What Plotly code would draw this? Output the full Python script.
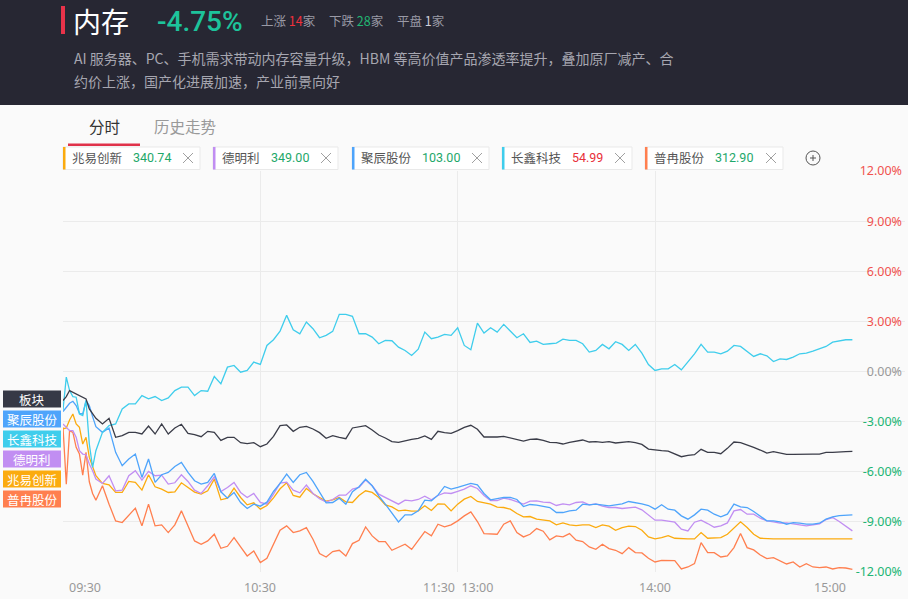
import plotly.graph_objects as go

# 分钟序号（09:30 起，午休合并），前10分钟逐分钟，之后每2分钟
minutes = list(range(0, 11)) + list(range(12, 241, 2))

# 各序列涨跌幅（%）
bankuai = [-1.74, -1.5, -1.14, -1.24, -1.34, -1.46, -1.54, -1.64, -2.24, -2.54, -2.8,
           -3.14, -2.8, -3.94, -3.84, -3.64, -3.64, -3.74, -3.26, -3.74, -3.14,
           -3.74, -3.38, -3.16, -3.7, -3.78, -3.9, -3.58, -3.64, -4.12, -3.94,
           -3.94, -4.26, -4.32, -4.26, -4.5,
           -4.34, -3.88, -3.24, -3.2, -3.58, -3.34, -3.28, -3.44, -3.66, -4.0,
           -3.84, -3.94, -4.02, -3.38, -3.3, -3.24, -3.5, -3.8, -3.98, -4.2,
           -4.24, -4.14, -4.06, -4.0, -3.86, -4.06, -3.58, -3.66, -3.7, -3.54,
           -3.34, -3.22, -3.46, -3.92, -3.94, -3.92, -3.88, -3.96, -4.08, -4.16,
           -4.06, -4.04, -4.12, -4.24, -4.26, -4.34, -4.24, -4.16, -4.1, -4.22,
           -4.2, -4.24, -4.2, -4.28, -4.24, -4.2, -4.26, -4.36, -4.64, -4.7,
           -4.74, -4.76, -4.94, -5.1, -5.02, -4.98, -4.66, -4.84, -4.84, -4.92,
           -4.6, -4.22, -4.26, -4.38, -4.54, -4.7, -4.88, -4.8, -4.9, -4.96,
           -4.96, -4.94, -4.94, -4.94, -4.94, -4.84, -4.84, -4.8, -4.8, -4.78]

juchen = [-2.4, -2.14, -1.9, -1.78, -2.04, -2.5, -2.54, -1.74, -2.04, -2.7, -3.3,
          -3.64, -3.38, -4.84, -5.64, -5.24, -4.94, -6.34, -5.24, -6.64, -6.18,
          -6.04, -5.68, -5.44, -6.04, -6.54, -6.74, -6.64, -6.1, -7.2, -7.58,
          -7.24, -7.84, -8.2, -7.94, -8.06,
          -7.82, -7.18, -6.7, -6.14, -6.64, -6.18, -6.04, -6.58, -7.24, -7.86,
          -7.84, -7.58, -7.94, -7.2, -6.9, -6.44, -6.84, -7.44, -7.94, -8.5,
          -9.0, -8.58, -8.58, -8.34, -7.7, -7.74, -7.4, -6.88, -7.04, -6.94,
          -6.84, -6.7, -6.78, -7.3, -7.68, -7.62, -7.54, -7.54, -7.66, -8.08,
          -7.96, -8.0, -8.06, -8.14, -8.44, -8.44, -8.34, -8.3, -7.94, -7.98,
          -7.94, -7.98, -8.04, -7.98, -7.92, -7.78, -7.84, -7.92, -8.02, -8.24,
          -7.98, -8.24, -8.3, -8.64, -8.84, -8.58, -8.24, -8.3, -8.54, -8.7,
          -8.54, -7.94, -8.1, -8.14, -8.38, -8.64, -8.94, -8.94, -9.0, -9.14,
          -9.04, -9.08, -9.14, -9.14, -9.08, -8.84, -8.7, -8.62, -8.58, -8.58]

changxin = [-2.3, -0.34, -1.14, -1.5, -1.54, -2.54, -2.64, -1.74, -4.34, -5.74, -4.74,
            -3.64, -3.24, -3.14, -2.24, -1.94, -1.94, -1.44, -1.64, -1.5, -1.74,
            -1.58, -1.14, -0.94, -0.94, -1.44, -1.14, -1.18, -0.3, -0.74, 0.26,
            0.36, -0.04, 0.06, 0.56, 0.42,
            1.56, 1.9, 2.42, 3.36, 2.5, 2.26, 2.96, 2.56, 2.02, 2.16,
            2.4, 3.42, 3.42, 3.3, 2.26, 2.26, 2.06, 1.66, 1.86, 1.84,
            1.46, 1.26, 0.96, 1.34, 2.36, 1.96, 2.06, 2.22, 2.16, 2.62,
            1.56, 1.3, 2.9, 2.3, 2.62, 2.36, 2.82, 2.42, 2.02, 2.26,
            1.74, 1.82, 1.62, 1.66, 1.7, 1.94, 1.86, 1.86, 1.66, 1.16,
            1.26, 1.62, 1.36, 1.78, 1.62, 1.26, 1.62, 1.1, 0.42, 0.06,
            0.16, 0.16, 0.42, 0.1, 0.56, 1.06, 1.62, 1.16, 1.16, 1.06,
            1.22, 1.56, 1.5, 1.2, 0.9, 1.06, 0.94, 0.6, 0.76, 0.72,
            0.86, 1.06, 1.1, 1.22, 1.38, 1.5, 1.76, 1.82, 1.9, 1.9]

demingli = [-3.14, -3.34, -3.54, -3.54, -3.94, -4.74, -4.94, -4.98, -5.54, -5.94, -6.44,
            -6.7, -6.24, -7.14, -7.1, -6.24, -5.94, -6.5, -5.98, -6.24, -6.2,
            -6.74, -6.66, -6.18, -6.58, -7.1, -7.3, -6.84, -6.3, -7.18, -6.94,
            -6.64, -7.24, -7.54, -7.3, -7.84,
            -7.94, -7.34, -6.68, -6.62, -7.1, -7.26, -6.8, -7.3, -7.62, -7.82,
            -7.66, -7.4, -7.4, -7.04, -6.94, -6.5, -6.84, -7.34, -7.54, -7.74,
            -7.94, -7.7, -7.74, -7.66, -7.46, -7.68, -7.42, -7.26, -7.3, -7.18,
            -7.04, -6.84, -7.0, -7.42, -7.72, -7.72, -7.58, -7.66, -7.78, -7.94,
            -7.76, -7.74, -7.82, -7.84, -8.02, -7.92, -7.98, -7.84, -7.8, -7.98,
            -7.92, -8.06, -8.14, -8.14, -8.2, -8.14, -8.12, -8.28, -8.58, -8.9,
            -8.9, -8.98, -9.02, -9.44, -9.54, -9.02, -8.9, -9.1, -9.32, -9.24,
            -9.06, -8.34, -8.26, -8.54, -8.54, -8.78, -8.94, -9.0, -9.08, -9.06,
            -9.1, -9.18, -9.24, -9.18, -9.12, -8.86, -8.74, -8.98, -9.24, -9.54]

zhaoyi = [-3.44, -3.38, -2.9, -2.54, -3.14, -3.34, -4.34, -3.94, -5.14, -5.74, -6.24,
          -6.7, -6.78, -7.24, -7.24, -6.58, -6.64, -7.1, -6.18, -6.9, -7.04,
          -7.24, -7.2, -6.66, -6.94, -7.22, -7.34, -7.14, -6.44, -7.68, -7.58,
          -6.98, -7.54, -7.98, -7.86, -8.24,
          -8.02, -7.56, -7.02, -6.66, -7.42, -7.52, -7.0, -7.32, -7.54, -7.76,
          -7.68, -7.54, -7.8, -7.84, -7.42, -7.14, -7.24, -7.54, -7.98, -8.1,
          -8.34, -8.3, -8.36, -8.34, -8.04, -8.32, -7.92, -7.94, -8.34, -7.94,
          -7.64, -7.48, -7.78, -7.86, -7.94, -8.12, -8.14, -8.24, -8.5, -8.7,
          -8.68, -8.84, -8.88, -8.94, -9.18, -9.06, -9.18, -9.22, -9.18, -9.18,
          -9.34, -9.18, -9.26, -9.5, -9.34, -9.26, -9.28, -9.5, -9.9, -10.02,
          -9.94, -9.82, -9.98, -10.02, -10.02, -10.02, -9.64, -9.98, -9.98, -9.94,
          -9.74, -9.38, -9.0, -9.34, -9.74, -9.98, -10.02, -10.02, -10.02, -10.02,
          -10.02, -10.02, -10.02, -10.02, -10.02, -10.02, -10.02, -10.02, -10.02, -10.02]

puran = [-3.34, -6.74, -3.54, -3.64, -4.54, -4.94, -6.2, -4.84, -6.6, -7.3, -7.7,
         -6.84, -7.94, -8.94, -9.04, -8.64, -8.18, -9.24, -7.94, -9.24, -9.18,
         -9.64, -9.18, -8.34, -9.24, -10.14, -10.34, -10.14, -9.74, -10.58, -10.46,
         -9.94, -10.5, -11.04, -10.74, -11.44,
         -11.18, -10.34, -9.5, -9.24, -9.64, -9.54, -9.34, -10.04, -10.9, -11.1,
         -10.78, -10.7, -11.04, -10.3, -10.1, -9.3, -9.84, -10.18, -10.18, -10.7,
         -10.54, -10.34, -10.64, -10.1, -9.58, -9.84, -9.14, -9.3, -9.18, -8.94,
         -8.64, -8.4, -8.98, -9.7, -9.74, -9.74, -9.14, -8.94, -9.64, -9.9,
         -9.74, -9.4, -9.56, -10.08, -9.84, -9.9, -9.7, -10.1, -10.18, -10.5,
         -10.64, -10.34, -10.6, -10.7, -10.9, -10.54, -10.84, -10.86, -11.18, -11.4,
         -11.3, -11.3, -11.32, -11.82, -11.7, -11.5, -10.24, -10.84, -10.84, -11.1,
         -11.04, -10.54, -9.7, -10.54, -10.68, -10.98, -11.2, -11.14, -11.34, -11.52,
         -11.4, -11.7, -11.5, -11.7, -11.74, -11.7, -11.82, -11.74, -11.76, -11.84]

# 图例标签（左侧）与顶部股票标签
series_names = ["普冉股份", "兆易创新", "德明利", "聚辰股份", "长鑫科技", "板块"]
series_data = [puran, zhaoyi, demingli, juchen, changxin, bankuai]
series_colors = ["#ff7f4f", "#fbab0f", "#c18ef2", "#4ea4fb", "#3fcdec", "#3a3c48"]

left_labels = ["板块", "聚辰股份", "长鑫科技", "德明利", "兆易创新", "普冉股份"]
left_colors = ["#363946", "#4ea4fb", "#3fcdec", "#c18ef2", "#fbab0f", "#ff7f4f"]

chip_names = ["兆易创新", "德明利", "聚辰股份", "长鑫科技", "普冉股份"]
chip_prices = ["340.74", "349.00", "103.00", "54.99", "312.90"]
chip_up = [False, False, False, True, False]
chip_colors = ["#fbab0f", "#c18ef2", "#4ea4fb", "#3fcdec", "#ff7f4f"]

y_ticks = [-12, -9, -6, -3, 0, 3, 6, 9, 12]
x_ticks = [0, 60, 120, 180, 240]
x_tick_text = ["09:30", "10:30", "11:30  13:00", "14:00", "15:00"]

RED = "#f0524f"
GREEN = "#21b574"
CJK = "Noto Sans CJK SC"

W, H = 908, 599
L, R, T, B = 63, 3, 171, 27
PW, PH = W - L - R, H - T - B


def px(x):
    return (x - L) / PW


def py(y):
    return (H - B - y) / PH


fig = go.Figure()
for name, vals, col in zip(series_names, series_data, series_colors):
    fig.add_trace(go.Scatter(x=minutes, y=vals, mode="lines", name=name,
                             line=dict(color=col, width=1.3), hoverinfo="skip"))


def tick_label(v):
    s = f"{v:.2f}%"
    c = RED if v > 0 else (GREEN if v < 0 else "#999999")
    return f"<span style='color:{c}'>{s}</span>"


shapes = []
ann = []

# 顶部深色区域
shapes.append(dict(type="rect", xref="paper", yref="paper", x0=px(0), x1=px(W),
                   y0=py(105), y1=py(0), fillcolor="#272733", line_width=0, layer="below"))
shapes.append(dict(type="rect", xref="paper", yref="paper", x0=px(61), x1=px(65),
                   y0=py(34), y1=py(6), fillcolor="#e8334a", line_width=0))
ann.append(dict(text="内存", x=px(71), y=py(21), xanchor="left",
                font=dict(size=28, color="#ffffff", family=CJK)))
ann.append(dict(text="-4.75%", x=px(155), y=py(21), xanchor="left",
                font=dict(size=28, color="#1dc39b", family="Roboto", weight=500)))
ann.append(dict(text="上涨 <span style='color:#f0303c'>14</span>家", x=px(259), y=py(20),
                xanchor="left", font=dict(size=12.5, color="#9a9aa6", family=CJK)))
ann.append(dict(text="下跌 <span style='color:#22b874'>28</span>家", x=px(327), y=py(20),
                xanchor="left", font=dict(size=12.5, color="#9a9aa6", family=CJK)))
ann.append(dict(text="平盘 <span style='color:#d0d0d8'>1</span>家", x=px(395), y=py(20),
                xanchor="left", font=dict(size=12.5, color="#9a9aa6", family=CJK)))
ann.append(dict(text="AI 服务器、PC、手机需求带动内存容量升级，HBM 等高价值产品渗透率提升，叠加原厂减产、合",
                x=px(72), y=py(58), xanchor="left",
                font=dict(size=14, color="#a6a6b0", family=CJK)))
ann.append(dict(text="约价上涨，国产化进展加速，产业前景向好",
                x=px(72), y=py(81), xanchor="left",
                font=dict(size=14, color="#a6a6b0", family=CJK)))

# 标签页
ann.append(dict(text="分时", x=px(104), y=py(126), xanchor="center",
                font=dict(size=15.5, color="#333333", family=CJK)))
ann.append(dict(text="历史走势", x=px(185), y=py(126), xanchor="center",
                font=dict(size=15.5, color="#999999", family=CJK)))
shapes.append(dict(type="rect", xref="paper", yref="paper", x0=px(68), x1=px(140),
                   y0=py(146), y1=py(143.5), fillcolor="#e0324a", line_width=0))

# 股票标签条
chip_x = [(63, 200), (213, 338), (352, 489), (502, 632), (645, 783)]
name_w = [48, 36, 48, 48, 48]
for (x0, x1), nm, pr, up, col, nw in zip(chip_x, chip_names, chip_prices, chip_up, chip_colors, name_w):
    shapes.append(dict(type="rect", xref="paper", yref="paper", x0=px(x0), x1=px(x1),
                       y0=py(169.5), y1=py(147), fillcolor="#ffffff",
                       line=dict(color="#e9e9e9", width=1)))
    shapes.append(dict(type="rect", xref="paper", yref="paper", x0=px(x0), x1=px(x0 + 2.5),
                       y0=py(169.5), y1=py(147), fillcolor=col, line_width=0))
    ann.append(dict(text=nm, x=px(x0 + 7), y=py(158), xanchor="left",
                    font=dict(size=12.5, color="#555555", family=CJK)))
    ann.append(dict(text=pr, x=px(x0 + 7 + nw + 13), y=py(158), xanchor="left",
                    font=dict(size=12.5, color="#e8303a" if up else "#1ea86a", family="Roboto")))
    cx = x1 - 12
    shapes.append(dict(type="line", xref="paper", yref="paper", x0=px(cx - 5), x1=px(cx + 5),
                       y0=py(153), y1=py(163), line=dict(color="#a0a0a0", width=1)))
    shapes.append(dict(type="line", xref="paper", yref="paper", x0=px(cx - 5), x1=px(cx + 5),
                       y0=py(163), y1=py(153), line=dict(color="#a0a0a0", width=1)))

# 加号按钮
shapes.append(dict(type="circle", xref="paper", yref="paper", x0=px(806), x1=px(820),
                   y0=py(165), y1=py(151), line=dict(color="#555555", width=1)))
shapes.append(dict(type="line", xref="paper", yref="paper", x0=px(810), x1=px(816),
                   y0=py(158), y1=py(158), line=dict(color="#555555", width=1)))
shapes.append(dict(type="line", xref="paper", yref="paper", x0=px(813), x1=px(813),
                   y0=py(155), y1=py(161), line=dict(color="#555555", width=1)))

# 左侧图例
for i, (lab, col) in enumerate(zip(left_labels, left_colors)):
    cy = 399 + 20 * i
    shapes.append(dict(type="rect", xref="paper", yref="paper", x0=px(3), x1=px(61),
                       y0=py(cy + 8.5), y1=py(cy - 8.5), fillcolor=col, line_width=0))
    ann.append(dict(text=lab, x=px(32), y=py(cy), xanchor="center",
                    font=dict(size=12.5, color="#ffffff", family=CJK)))

# 时间轴标签
for i, (v, t) in enumerate(zip(x_ticks, x_tick_text)):
    anchor = "left" if i == 0 else ("right" if i == len(x_ticks) - 1 else "center")
    ann.append(dict(text=t, x=v, xref="x", y=py(587), xanchor=anchor,
                    xshift=4 if i == 0 else (-4 if i == len(x_ticks) - 1 else 0),
                    font=dict(size=12.5, color="#999999", family="Noto Sans")))

for a in ann:
    a.setdefault("xref", "paper")
    a.setdefault("yref", "paper")
    a.setdefault("yanchor", "middle")
    a["showarrow"] = False

fig.update_layout(
    width=W, height=H,
    margin=dict(l=L, r=R, t=T, b=B),
    paper_bgcolor="#fafafa",
    plot_bgcolor="#fafafa",
    showlegend=False,
    shapes=shapes,
    annotations=ann,
    font=dict(family=CJK),
    xaxis=dict(range=[0, 256], tickvals=[60, 120, 180], showticklabels=False,
               showgrid=True, gridcolor="#ebebeb", zeroline=False, showline=False, ticks=""),
    yaxis=dict(range=[-12, 12], side="right", ticklabelposition="inside",
               ticklabeloverflow="allow", tickvals=y_ticks,
               ticktext=[tick_label(v) for v in y_ticks],
               tickfont=dict(size=12.5, family="Noto Sans"),
               showgrid=True, gridcolor="#ebebeb", zeroline=False, showline=False, ticks=""),
)

fig.write_html("out.html", config={"displayModeBar": False},
               post_script="document.body.style.margin='0';")
